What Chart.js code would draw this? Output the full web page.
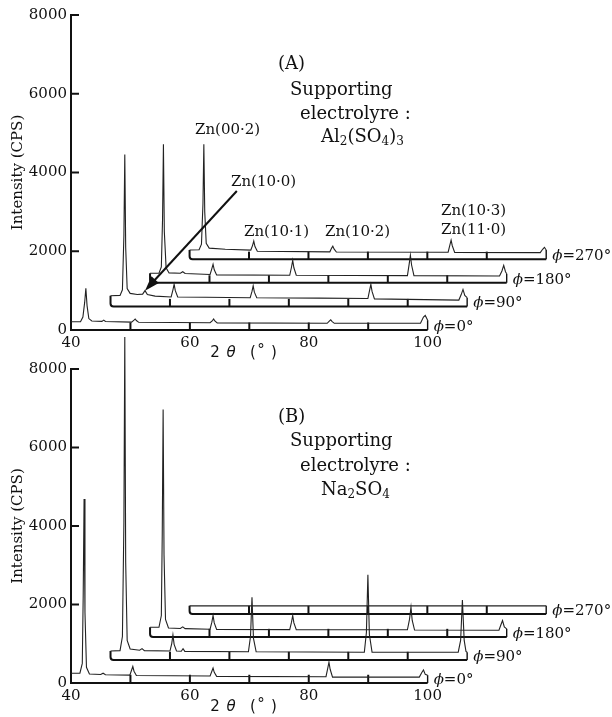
<!DOCTYPE html>
<html>
<head>
<meta charset="utf-8">
<script src="https://cdn.jsdelivr.net/npm/chart.js@4.4.0/dist/chart.umd.min.js"></script>
<style>
html, body { margin: 0; padding: 0; background: #fff; }
#wrap { position: relative; width: 612px; height: 717px; overflow: hidden; }
canvas { position: absolute; left: 0; }
#chartA { top: 0; }
#chartB { top: 330px; }
</style>
</head>
<body>
<div id="wrap">
<canvas id="chartA" width="612" height="362"></canvas>
<canvas id="chartB" width="612" height="387"></canvas>
</div>
<script>
// tick labels and slab ticks
const xTickValues = [40, 60, 80, 100];
const yTickValues = [0, 2000, 4000, 6000, 8000];
const slabTicks = [50, 60, 70, 80, 90];
const phiNames = ["0", "90", "180", "270"];

// waterfall steps
const shiftTheta = 6.65;
const shiftA = 600;
const shiftB = 585;

//////////////////////////////// (A) Al2(SO4)3, 2θ / CPS
const a0Theta = [40, 41.6, 42.0, 42.3, 42.5, 42.7, 43.0, 43.5, 45.2, 45.5, 45.8, 50.2, 50.6, 50.8, 51.0, 51.4, 63.4, 63.8, 64.0, 64.2, 64.6, 83.1, 83.5, 83.7, 83.9, 84.3, 98.8, 99.3, 99.6, 100];
const a0Int = [210, 210, 330, 700, 1060, 620, 290, 230, 220, 250, 215, 200, 250, 280, 240, 195, 185, 240, 280, 230, 180, 170, 230, 260, 220, 170, 170, 330, 370, 250];

const a1Theta = [40, 41.6, 42.0, 42.25, 42.4, 42.55, 42.8, 43.3, 44.5, 45.4, 45.8, 46.2, 47.5, 50.2, 50.5, 50.7, 50.9, 51.3, 56, 63.5, 63.8, 64.0, 64.2, 64.6, 75, 83.3, 83.6, 83.8, 84.0, 84.4, 98.6, 99.0, 99.3, 99.6, 100];
const a1Int = [270, 280, 420, 1800, 3860, 1500, 450, 330, 300, 310, 400, 300, 260, 240, 420, 560, 400, 240, 230, 220, 380, 520, 360, 220, 210, 200, 420, 560, 380, 190, 160, 300, 430, 280, 220];

const a2Theta = [40, 41.5, 41.9, 42.1, 42.25, 42.4, 42.7, 43.2, 45.1, 45.5, 45.9, 50.1, 50.4, 50.6, 50.8, 51.2, 63.5, 63.8, 64.0, 64.2, 64.6, 83.3, 83.6, 83.8, 84.0, 84.4, 98.8, 99.2, 99.5, 99.8, 100];
const a2Int = [240, 240, 400, 1600, 3520, 1300, 380, 250, 240, 280, 235, 210, 360, 470, 330, 200, 190, 400, 570, 380, 190, 180, 480, 700, 450, 180, 170, 300, 440, 280, 230];

const a3Theta = [40, 41.6, 42.0, 42.25, 42.4, 42.55, 42.8, 43.3, 46, 50.3, 50.6, 50.8, 51.0, 51.4, 63.6, 63.9, 64.1, 64.3, 64.7, 83.5, 83.8, 84.0, 84.2, 84.6, 99.0, 99.4, 99.7, 100];
const a3Int = [230, 240, 380, 1400, 2920, 1200, 400, 280, 250, 230, 350, 460, 320, 200, 185, 280, 330, 260, 180, 175, 360, 480, 340, 170, 165, 250, 300, 230];

//////////////////////////////// (B) Na2SO4
const b0Theta = [40, 41.5, 41.9, 42.05, 42.2, 42.35, 42.6, 43.1, 45.0, 45.4, 45.8, 49.9, 50.2, 50.4, 50.6, 51.0, 63.4, 63.7, 63.9, 64.1, 64.5, 82.9, 83.2, 83.4, 83.6, 84.0, 98.6, 99.0, 99.3, 99.6, 100];
const b0Int = [250, 250, 500, 2200, 4690, 1800, 400, 230, 215, 250, 210, 200, 330, 420, 300, 190, 180, 300, 380, 270, 170, 160, 380, 530, 350, 150, 150, 260, 330, 220, 200];

const b1Theta = [40, 41.6, 42.0, 42.25, 42.4, 42.55, 42.8, 43.3, 44.9, 45.3, 45.7, 50.0, 50.3, 50.5, 50.7, 51.1, 51.9, 52.2, 52.5, 63.2, 63.55, 63.8, 64.05, 64.5, 82.7, 83.05, 83.3, 83.55, 84.0, 98.5, 98.9, 99.2, 99.5, 99.8, 100];
const b1Int = [230, 240, 600, 3500, 8230, 2500, 500, 280, 250, 290, 240, 230, 420, 640, 400, 230, 225, 290, 220, 210, 600, 1600, 550, 210, 200, 700, 2170, 650, 200, 200, 500, 1530, 500, 220, 200];

const b2Theta = [40, 41.5, 41.9, 42.05, 42.2, 42.35, 42.6, 43.1, 45.1, 45.5, 45.9, 50.1, 50.4, 50.6, 50.8, 51.2, 63.5, 63.8, 64.0, 64.2, 64.6, 83.3, 83.65, 83.9, 84.1, 84.5, 98.7, 99.0, 99.3, 99.6, 100];
const b2Int = [250, 250, 550, 2600, 5800, 2100, 450, 230, 220, 260, 215, 200, 380, 550, 360, 195, 190, 380, 550, 360, 190, 185, 450, 760, 430, 180, 175, 300, 420, 260, 210];

const b3Theta = [40, 100];
const b3Int = [210, 210];

const serif = "'DejaVu Serif', serif";

function drawRuns(ctx, runs, x, y) {
	ctx.textBaseline = "middle";
	ctx.textAlign = "left";
	let cx = x;
	runs.forEach((r) => {
		ctx.font = r.f;
		ctx.fillText(r.t, cx, y + (r.dy || 0));
		cx += ctx.measureText(r.t).width;
	});
}

const waterfallPlugin = {
	id: "waterfall",
	beforeDatasetsDraw(chart, args, opts) {
		const { ctx } = chart;
		const x = chart.scales.x;
		const y = chart.scales.y;
		ctx.save();
		ctx.strokeStyle = "#111";
		ctx.lineCap = "butt";
		opts.traces.forEach((tr, k) => {
			const px0 = x.getPixelForValue(40 + k * shiftTheta);
			const px1 = x.getPixelForValue(100 + k * shiftTheta);
			const yb = y.getPixelForValue(k * opts.shift);
			const ys = y.getPixelForValue(tr[1][0] + k * opts.shift);
			const ye = y.getPixelForValue(tr[1][tr[1].length - 1] + k * opts.shift);
			const yt = y.getPixelForValue(k * opts.shift + opts.depth);
			const r = k === 0 ? 0 : 3;
			ctx.lineWidth = 2;
			ctx.beginPath();
			ctx.moveTo(px0, ys);
			ctx.lineTo(px0, yb - r);
			ctx.quadraticCurveTo(px0, yb, px0 + r, yb);
			ctx.lineTo(px1, yb);
			ctx.stroke();
			ctx.lineWidth = 1.4;
			ctx.beginPath();
			ctx.moveTo(px1, yb);
			ctx.lineTo(px1, ye);
			ctx.stroke();
			ctx.lineWidth = 2;
			slabTicks.forEach((t) => {
				const px = x.getPixelForValue(t + k * shiftTheta);
				ctx.beginPath();
				ctx.moveTo(px, yb);
				ctx.lineTo(px, yt);
				ctx.stroke();
			});
			// phi label
			ctx.fillStyle = "#111";
			drawRuns(ctx, [
				{ t: "ϕ", f: "italic 15px " + serif },
				{ t: "=" + phiNames[k] + "°", f: "15px " + serif },
			], px1 + 6, yb - 3);
		});
		// inward y ticks
		ctx.lineWidth = 2;
		const ax = chart.chartArea.left;
		yTickValues.forEach((v) => {
			const py = y.getPixelForValue(v);
			ctx.beginPath();
			ctx.moveTo(ax, py);
			ctx.lineTo(ax + 8, py);
			ctx.stroke();
		});
		ctx.restore();
	},
	afterDraw(chart, args, opts) {
		const { ctx } = chart;
		const x = chart.scales.x;
		const y = chart.scales.y;
		ctx.save();
		ctx.fillStyle = "#111";
		opts.texts.forEach((tx) => drawRuns(ctx, tx.runs, tx.x, tx.y));
		// x title
		ctx.font = "15px 'DejaVu Sans', sans-serif";
		ctx.textBaseline = "middle";
		ctx.textAlign = "center";
		const ty = opts.xTitleY;
		ctx.fillText("2", 215, ty);
		ctx.font = "italic 15px 'DejaVu Sans', sans-serif";
		ctx.fillText("θ", 231, ty);
		ctx.font = "15px 'DejaVu Sans', sans-serif";
		ctx.fillText("(", 253, ty);
		ctx.fillText("°", 261, ty - 2);
		ctx.fillText(")", 274, ty);
		if (opts.arrow) {
			const x1 = x.getPixelForValue(opts.arrow.from[0]);
			const y1 = y.getPixelForValue(opts.arrow.from[1]);
			const x2 = x.getPixelForValue(opts.arrow.to[0]);
			const y2 = y.getPixelForValue(opts.arrow.to[1]);
			const ang = Math.atan2(y2 - y1, x2 - x1);
			ctx.strokeStyle = "#111";
			ctx.lineWidth = 2;
			ctx.beginPath();
			ctx.moveTo(x1, y1);
			ctx.lineTo(x2 - 10 * Math.cos(ang), y2 - 10 * Math.sin(ang));
			ctx.stroke();
			ctx.beginPath();
			ctx.moveTo(x2, y2);
			ctx.lineTo(x2 - 15 * Math.cos(ang) + 5 * Math.sin(ang), y2 - 15 * Math.sin(ang) - 5 * Math.cos(ang));
			ctx.lineTo(x2 - 15 * Math.cos(ang) - 5 * Math.sin(ang), y2 - 15 * Math.sin(ang) + 5 * Math.cos(ang));
			ctx.closePath();
			ctx.fill();
		}
		ctx.restore();
	},
};

function makeDatasets(traces, shift) {
	return traces.map((tr, k) => ({
		data: tr[0].map((t, i) => ({ x: t + k * shiftTheta, y: tr[1][i] + k * shift })),
		borderColor: "#222",
		borderWidth: 1.1,
		pointRadius: 0,
		tension: 0,
		clip: false,
	}));
}

function makeChart(canvasId, traces, shift, depth, topPad, xAxisH, texts, xTitleY, arrow) {
	return new Chart(document.getElementById(canvasId), {
		type: "line",
		data: { datasets: makeDatasets(traces, shift) },
		options: {
			responsive: false,
			animation: false,
			layout: { padding: { top: topPad, right: 12, left: 0, bottom: 0 } },
			plugins: {
				legend: { display: false },
				tooltip: { enabled: false },
				waterfall: { traces: traces, shift: shift, depth: depth, texts: texts, xTitleY: xTitleY, arrow: arrow },
			},
			scales: {
				x: {
					type: "linear",
					min: 40,
					max: 129,
					afterBuildTicks: (s) => { s.ticks = xTickValues.map((v) => ({ value: v })); },
					afterFit: (s) => { s.height = xAxisH; },
					grid: { display: false, drawTicks: false },
					border: { display: false },
					ticks: { color: "#111", font: { family: serif, size: 15 }, padding: 4, maxRotation: 0, callback: (v) => String(v) },
				},
				y: {
					min: 0,
					max: 8000,
					afterBuildTicks: (s) => { s.ticks = yTickValues.map((v) => ({ value: v })); },
					afterFit: (s) => { s.width = 71; },
					grid: { display: false, drawTicks: false },
					border: { display: true, color: "#111", width: 2 },
					ticks: { color: "#111", font: { family: serif, size: 15 }, padding: 4, callback: (v) => String(v) },
					title: {
						display: true,
						text: "Intensity (CPS)",
						color: "#111",
						font: { family: serif, size: 15 },
						padding: { top: 9, bottom: 0 },
					},
				},
			},
		},
		plugins: [waterfallPlugin],
	});
}

const big = "18px " + serif;
const small = "12px " + serif;
const lab = "15px " + serif;

const textsA = [
	{ x: 278, y: 64, runs: [{ t: "(A)", f: big }] },
	{ x: 290, y: 90, runs: [{ t: "Supporting", f: big }] },
	{ x: 300, y: 114, runs: [{ t: "electrolyre :", f: big }] },
	{ x: 321, y: 137, runs: [{ t: "Al", f: big }, { t: "2", f: small, dy: 5 }, { t: "(SO", f: big }, { t: "4", f: small, dy: 5 }, { t: ")", f: big }, { t: "3", f: small, dy: 5 }] },
	{ x: 195, y: 130, runs: [{ t: "Zn(00·2)", f: lab }] },
	{ x: 231, y: 182, runs: [{ t: "Zn(10·0)", f: lab }] },
	{ x: 244, y: 232, runs: [{ t: "Zn(10·1)", f: lab }] },
	{ x: 325, y: 232, runs: [{ t: "Zn(10·2)", f: lab }] },
	{ x: 441, y: 211, runs: [{ t: "Zn(10·3)", f: lab }] },
	{ x: 441, y: 230, runs: [{ t: "Zn(11·0)", f: lab }] },
];

const textsB = [
	{ x: 278, y: 87, runs: [{ t: "(B)", f: big }] },
	{ x: 290, y: 111, runs: [{ t: "Supporting", f: big }] },
	{ x: 300, y: 136, runs: [{ t: "electrolyre :", f: big }] },
	{ x: 321, y: 160, runs: [{ t: "Na", f: big }, { t: "2", f: small, dy: 5 }, { t: "SO", f: big }, { t: "4", f: small, dy: 5 }] },
];

makeChart("chartA", [[a0Theta, a0Int], [a1Theta, a1Int], [a2Theta, a2Int], [a3Theta, a3Int]],
	shiftA, 190, 15, 32, textsA, 353,
	{ from: [67.9, 3530], to: [45.8 + shiftTheta, 400 + shiftA] });

makeChart("chartB", [[b0Theta, b0Int], [b1Theta, b1Int], [b2Theta, b2Int], [b3Theta, b3Int]],
	shiftB, 210, 39, 34, textsB, 377, null);
</script>
</body>
</html>
